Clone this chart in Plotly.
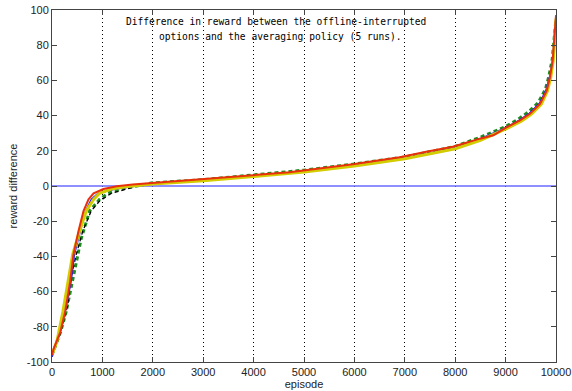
import plotly.graph_objects as go

# Episode / reward-difference samples (5 runs, sorted differences)
red_ep = [0, 30, 165, 260, 360, 425, 525, 625, 725, 825, 1020, 1285, 1600, 1915, 2530, 3000, 3520, 4000, 4710, 5970, 6900, 7425, 7950, 8490, 8757, 9008, 9286, 9484, 9683, 9815, 9880, 9934, 9974, 10000]
red_val = [-96, -92.7, -83, -71.6, -54.4, -39, -25.7, -14.2, -7.6, -4.2, -1.7, -0.2, 0.8, 1.5, 3, 3.8, 4.9, 6.3, 7.8, 12.3, 16.3, 19.5, 22.3, 26.9, 28.8, 33.2, 37.3, 41, 46.7, 54.2, 61.8, 71.2, 84.3, 97]

yellow_ep = [0, 100, 215, 325, 410, 545, 680, 825, 940, 1175, 1500, 2000, 3000, 4000, 5000, 6000, 7000, 8000, 8500, 9050, 9320, 9520, 9710, 9830, 9895, 9945, 9980, 10000]
yellow_val = [-96, -88, -71.6, -54.4, -39, -25.7, -14.2, -7.6, -4.2, -1.7, -0.3, 1.2, 3.0, 5.4, 8, 11.3, 15.5, 21.2, 26, 33, 37, 41, 46.5, 54, 61.5, 71, 84, 95]

blue_ep = [0, 150, 260, 380, 446, 558, 665, 777, 910, 1275, 1670, 2000, 3000, 4000, 5000, 6000, 7000, 8000, 8500, 9000, 9270, 9470, 9670, 9800, 9870, 9930, 9970, 10000]
blue_val = [-97, -84, -72, -54.4, -39, -25.7, -14.2, -7.6, -4.2, -1.7, -0.2, 1.4, 3.4, 5.8, 8.4, 11.7, 15.8, 21.8, 27, 33.2, 37.5, 41.3, 47, 54.5, 62, 71.5, 84.5, 97]

green_ep = [0, 170, 280, 360, 513, 580, 680, 745, 942, 1107, 1373, 1700, 2000, 3000, 4000, 5000, 6000, 7000, 8000, 8480, 8980, 9250, 9450, 9650, 9790, 9860, 9925, 9968, 10000]
green_val = [-96, -83, -71.6, -60, -39, -29.8, -20.5, -14.2, -7.6, -4.2, -1.7, 0, 1.8, 3.6, 6.2, 9, 12.5, 16.5, 22.5, 27.5, 33.5, 38, 42, 47.5, 55, 62.5, 72, 85, 95]

black_ep = [0, 150, 315, 360, 480, 610, 777, 942, 1175, 1472, 1670, 2000, 3000, 4000, 5000, 6000, 7000, 8000, 8500, 9020, 9300, 9500, 9700, 9830, 9890, 9940, 9975, 10000]
black_val = [-97, -85, -67.5, -54.4, -39, -25.7, -14.2, -8.6, -4.2, -1.7, -0.2, 1.2, 3.2, 5.6, 8.3, 11.6, 15.8, 21.7, 26.5, 33, 37, 40.8, 46.3, 53.8, 61.5, 71, 84, 95]

x_ticks = [0, 1000, 2000, 3000, 4000, 5000, 6000, 7000, 8000, 9000, 10000]
y_ticks = [-100, -80, -60, -40, -20, 0, 20, 40, 60, 80, 100]
zero_line_x = [0, 10000]
zero_line_y = [0, 0]

title_1 = "Difference in reward between the offline-interrupted"
title_2 = "options and the averaging policy (5 runs)."

fig = go.Figure()
fig.add_trace(go.Scatter(x=zero_line_x, y=zero_line_y, mode="lines",
                         line=dict(color="#6a6aff", width=1.5), showlegend=False))
fig.add_trace(go.Scatter(x=green_ep, y=green_val, mode="lines",
                         line=dict(color="#1e8c1e", width=3, dash="4px,3px"), showlegend=False))
fig.add_trace(go.Scatter(x=black_ep, y=black_val, mode="lines",
                         line=dict(color="#000000", width=1.3, dash="4px,3px"), showlegend=False))
fig.add_trace(go.Scatter(x=blue_ep, y=blue_val, mode="lines",
                         line=dict(color="#1a1aff", width=1.3), showlegend=False))
fig.add_trace(go.Scatter(x=yellow_ep, y=yellow_val, mode="lines",
                         line=dict(color="#d2cc00", width=3), showlegend=False))
fig.add_trace(go.Scatter(x=red_ep, y=red_val, mode="lines",
                         line=dict(color="#e8300c", width=2), showlegend=False))

W, H = 572, 391
ml, mr, mt, mb = 52, 16, 10, 29
pw, ph = W - ml - mr, H - mt - mb

def px2paper_x(px):
    return (px - ml) / pw

def py2paper_y(py):
    return (H - mb - py) / ph

fig.add_annotation(text=title_1, x=px2paper_x(124), y=py2paper_y(22), xref="paper", yref="paper",
                   xanchor="left", yanchor="middle", showarrow=False,
                   font=dict(family="DejaVu Sans Mono", size=9.6, color="#000"))
fig.add_annotation(text=title_2, x=px2paper_x(157), y=py2paper_y(36), xref="paper", yref="paper",
                   xanchor="left", yanchor="middle", showarrow=False,
                   font=dict(family="DejaVu Sans Mono", size=9.6, color="#000"))

fig.update_layout(
    width=W, height=H,
    margin=dict(l=ml, r=mr, t=mt, b=mb, autoexpand=False),
    paper_bgcolor="white", plot_bgcolor="white",
    font=dict(family="Liberation Sans", size=11, color="#222"),
)
fig.update_xaxes(
    range=[0, 10000], tickvals=x_ticks, ticktext=[str(v) for v in x_ticks],
    showgrid=True, gridcolor="#000", griddash="1px,3px", gridwidth=1,
    showline=True, linecolor="#444", linewidth=1, mirror="allticks",
    ticks="inside", ticklen=5, tickcolor="#444", zeroline=False, automargin=False,
    title=dict(text="episode", standoff=2, font=dict(size=11)),
)
fig.update_yaxes(
    range=[-100, 100], tickvals=y_ticks, ticktext=[str(v) for v in y_ticks],
    showgrid=False,
    showline=True, linecolor="#444", linewidth=1, mirror="allticks",
    ticks="inside", ticklen=5, tickcolor="#444", zeroline=False, automargin=False,
    title=dict(text="reward difference", standoff=6, font=dict(size=11)),
)

fig.write_html("out.html", config={"displayModeBar": False},
               post_script="document.body.style.margin='0';document.body.style.overflow='hidden';")
